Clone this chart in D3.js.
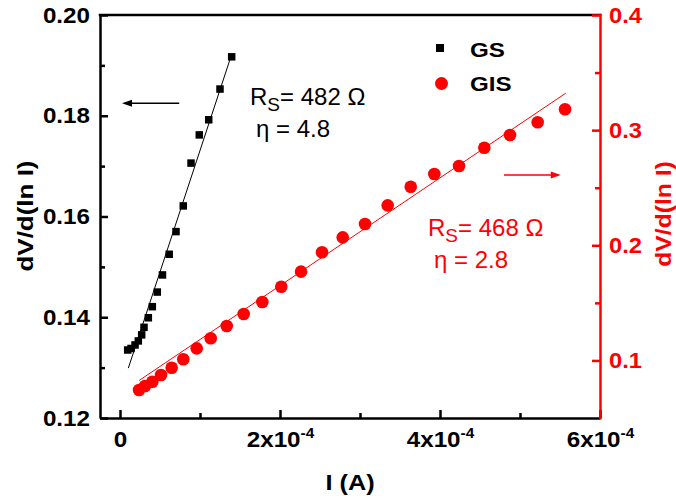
<!DOCTYPE html>
<html><head><meta charset="utf-8">
<script src="https://cdn.jsdelivr.net/npm/d3@7"></script>
<style>body{margin:0;background:#fff} svg{display:block}</style>
</head><body><svg id="c" width="676" height="504"></svg>
<script>
// ---------- data ----------
const seriesNames = ["GS", "GIS"];
const gsI = [0.96e-5, 1.38e-5, 1.88e-5, 2.29e-5, 2.71e-5, 3.0e-5, 3.54e-5, 4.04e-5, 4.66e-5, 5.31e-5, 6.15e-5, 7.0e-5, 7.91e-5, 8.88e-5, 9.91e-5, 1.109e-4, 1.25e-4, 1.396e-4];
const gsV = [0.1335, 0.1338, 0.1345, 0.1353, 0.1365, 0.1380, 0.1399, 0.1421, 0.1450, 0.1484, 0.1525, 0.1570, 0.1621, 0.1706, 0.1762, 0.1792, 0.1853, 0.1917];
const gisI = [2.38e-5, 3.13e-5, 4.04e-5, 5.13e-5, 6.46e-5, 7.91e-5, 9.59e-5, 1.134e-4, 1.334e-4, 1.546e-4, 1.779e-4, 2.016e-4, 2.263e-4, 2.525e-4, 2.784e-4, 3.063e-4, 3.346e-4, 3.634e-4, 3.929e-4, 4.238e-4, 4.554e-4, 4.875e-4, 5.221e-4, 5.563e-4];
const gisV = [0.0743, 0.0778, 0.0815, 0.0873, 0.0937, 0.1010, 0.1105, 0.1192, 0.1299, 0.1403, 0.1507, 0.1640, 0.1771, 0.1939, 0.2069, 0.2185, 0.2347, 0.2509, 0.2619, 0.2689, 0.2847, 0.2958, 0.3068, 0.3181];
const gsFitI = [1.04e-5, 1.39e-4];
const gsFitV = [0.1299, 0.1919];
const gisFitI = [2.4e-5, 5.57e-4];
const gisFitV = [0.0826, 0.332];
const xMajor = [0, 2e-4, 4e-4, 6e-4];
const xMinor = [1e-4, 3e-4, 5e-4];
const xTickBase = ["0", "2x10", "4x10", "6x10"];
const xTickExp = ["", "-4", "-4", "-4"];
const yLeftMajor = [0.12, 0.14, 0.16, 0.18, 0.20];
const yLeftMinor = [0.13, 0.15, 0.17, 0.19];
const yRightMajor = [0.1, 0.2, 0.3, 0.4];
const yRightMinor = [0.15, 0.25, 0.35];
const gsArrowI = [7.4e-5, 2.5e-6], gsArrowV = 0.1825;
const gisArrowI = [4.8e-4, 5.51e-4], gisArrowV = 0.261;
const xTitle = "I (A)", yTitle = "dV/d(ln I)";
const gsNote = ["R", "S", "= 482 \u03A9", "\u03B7 = 4.8"];
const gisNote = ["R", "S", "= 468 \u03A9", "\u03B7 = 2.8"];

// ---------- layout ----------
const L = 100, R = 600, T = 15, B = 418;
const RED = "#ff0000";
const FONT = '"Liberation Sans", Arial, Helvetica, sans-serif';
const svg = d3.select("#c");
const x = d3.scaleLinear().domain([-2.5e-5, 6e-4]).range([L, R]);
const yL = d3.scaleLinear().domain([0.12, 0.20]).range([B, T]);
const yR = d3.scaleLinear().domain([0.05, 0.4]).range([B, T]);

function stretch(sel, k) {
  sel.each(function () {
    const w = this.getComputedTextLength();
    if (w > 0) {
      this.setAttribute("textLength", (w * k).toFixed(1));
      this.setAttribute("lengthAdjust", "spacingAndGlyphs");
    }
  });
}
function styleAxis(g, color) {
  g.attr("font-family", FONT).attr("font-size", 22).attr("font-weight", "bold");
  g.selectAll("line").attr("stroke", color).attr("stroke-width", 2.5);
  g.selectAll("path.domain").attr("stroke", color).attr("stroke-width", 2.5);
  g.selectAll("text").attr("fill", color);
}

// fit lines
const lineL = d3.line().x(d => x(d[0])).y(d => yL(d[1]));
const lineR = d3.line().x(d => x(d[0])).y(d => yR(d[1]));
svg.append("path").attr("d", lineL(d3.zip(gsFitI, gsFitV)))
  .attr("fill", "none").attr("stroke", "#000").attr("stroke-width", 1);
svg.append("path").attr("d", lineR(d3.zip(gisFitI, gisFitV)))
  .attr("fill", "none").attr("stroke", RED).attr("stroke-width", 1);

// markers
const SQ = 7.5;
svg.append("g").selectAll("rect").data(d3.zip(gsI, gsV)).join("rect")
  .attr("x", d => x(d[0]) - SQ / 2).attr("y", d => yL(d[1]) - SQ / 2)
  .attr("width", SQ).attr("height", SQ).attr("fill", "#000");
svg.append("g").selectAll("circle").data(d3.zip(gisI, gisV)).join("circle")
  .attr("cx", d => x(d[0])).attr("cy", d => yR(d[1])).attr("r", 6.3).attr("fill", RED);

// x axis
const gxMinor = svg.append("g").attr("transform", `translate(0,${B})`)
  .call(d3.axisBottom(x).tickValues(xMinor).tickSize(-5).tickFormat(() => ""));
gxMinor.select(".domain").remove();
styleAxis(gxMinor, "#000");
const gx = svg.append("g").attr("transform", `translate(0,${B})`)
  .call(d3.axisBottom(x).tickValues(xMajor).tickSizeInner(-8).tickSizeOuter(0).tickPadding(13)
    .tickFormat((d, i) => xTickBase[i]));
styleAxis(gx, "#000");
gx.selectAll(".tick text").each(function (d, i) {
  const t = d3.select(this);
  t.text(null);
  t.append("tspan").text(xTickBase[i]);
  if (xTickExp[i]) t.append("tspan").attr("font-size", 14).attr("dy", -9).text(xTickExp[i]);
});
stretch(gx.selectAll(".tick text"), 1.1);

// left axis
const gyMinor = svg.append("g").attr("transform", `translate(${L},0)`)
  .call(d3.axisLeft(yL).tickValues(yLeftMinor).tickSize(-5).tickFormat(() => ""));
gyMinor.select(".domain").remove();
styleAxis(gyMinor, "#000");
const gy = svg.append("g").attr("transform", `translate(${L},0)`)
  .call(d3.axisLeft(yL).tickValues(yLeftMajor).tickSizeInner(-8).tickSizeOuter(0).tickPadding(10)
    .tickFormat(d3.format(".2f")));
styleAxis(gy, "#000");
stretch(gy.selectAll(".tick text"), 1.1);

// top border
svg.append("line").attr("x1", L).attr("x2", R).attr("y1", T).attr("y2", T)
  .attr("stroke", "#000").attr("stroke-width", 2.5).attr("stroke-linecap", "square");

// right axis
const grMinor = svg.append("g").attr("transform", `translate(${R},0)`)
  .call(d3.axisRight(yR).tickValues(yRightMinor).tickSize(-5).tickFormat(() => ""));
grMinor.select(".domain").remove();
styleAxis(grMinor, RED);
const gr = svg.append("g").attr("transform", `translate(${R},0)`)
  .call(d3.axisRight(yR).tickValues(yRightMajor).tickSizeInner(-8).tickSizeOuter(0).tickPadding(9)
    .tickFormat(d3.format(".1f")));
styleAxis(gr, RED);
gr.select(".domain").attr("d", `M0.5,${T - 1.2}V${B + 1.2}`);
stretch(gr.selectAll(".tick text"), 1.08);

// axis titles
const bold = sel => sel.attr("font-family", FONT).attr("font-weight", "bold");
const xt = svg.append("text").attr("x", (L + R) / 2).attr("y", 490).attr("text-anchor", "middle")
  .attr("font-size", 22).attr("fill", "#000").text(xTitle).call(bold);
stretch(xt, 1.15);
const ylt = svg.append("text").attr("transform", "translate(33,216) rotate(-90)")
  .attr("text-anchor", "middle").attr("font-size", 22).attr("fill", "#000").text(yTitle).call(bold);
stretch(ylt, 1.18);
const yrt = svg.append("text").attr("transform", "translate(671,214) rotate(-90)")
  .attr("text-anchor", "middle").attr("font-size", 22).attr("fill", RED).text(yTitle).call(bold);
stretch(yrt, 1.12);

// legend
svg.append("rect").attr("x", 436).attr("y", 44).attr("width", 8).attr("height", 8).attr("fill", "#000");
svg.append("circle").attr("cx", 441.5).attr("cy", 83.5).attr("r", 6.5).attr("fill", RED);
const lg = svg.append("g").attr("font-family", FONT).attr("font-weight", "bold").attr("font-size", 21);
lg.append("text").attr("x", 470).attr("y", 57).text(seriesNames[0]);
lg.append("text").attr("x", 470).attr("y", 91).text(seriesNames[1]);
stretch(lg.selectAll("text"), 1.15);

// arrows
function arrow(x1, x2, yy, color) {
  const dir = Math.sign(x2 - x1);
  svg.append("line").attr("x1", x1).attr("x2", x2 - dir * 8).attr("y1", yy).attr("y2", yy)
    .attr("stroke", color).attr("stroke-width", 1.5);
  svg.append("path").attr("d", `M${x2},${yy}L${x2 - dir * 10},${yy - 3.5}L${x2 - dir * 10},${yy + 3.5}Z`)
    .attr("fill", color);
}
arrow(x(gsArrowI[0]), x(gsArrowI[1]), yL(gsArrowV), "#000");
arrow(x(gisArrowI[0]), x(gisArrowI[1]), yR(gisArrowV), RED);

// annotations
function note(parts, x0, y0, color) {
  const g = svg.append("g").attr("font-family", FONT).attr("font-size", 24).attr("fill", color);
  const t = g.append("text").attr("x", x0).attr("y", y0);
  t.append("tspan").text(parts[0]);
  t.append("tspan").attr("font-size", 19).attr("dy", 6).text(parts[1]);
  t.append("tspan").attr("dy", -6).text(parts[2]);
  g.append("text").attr("x", x0 + 6).attr("y", y0 + 32).text(parts[3]);
}
note(gsNote, 250, 105, "#000");
note(gisNote, 428, 236, RED);
</script>
</body></html>
